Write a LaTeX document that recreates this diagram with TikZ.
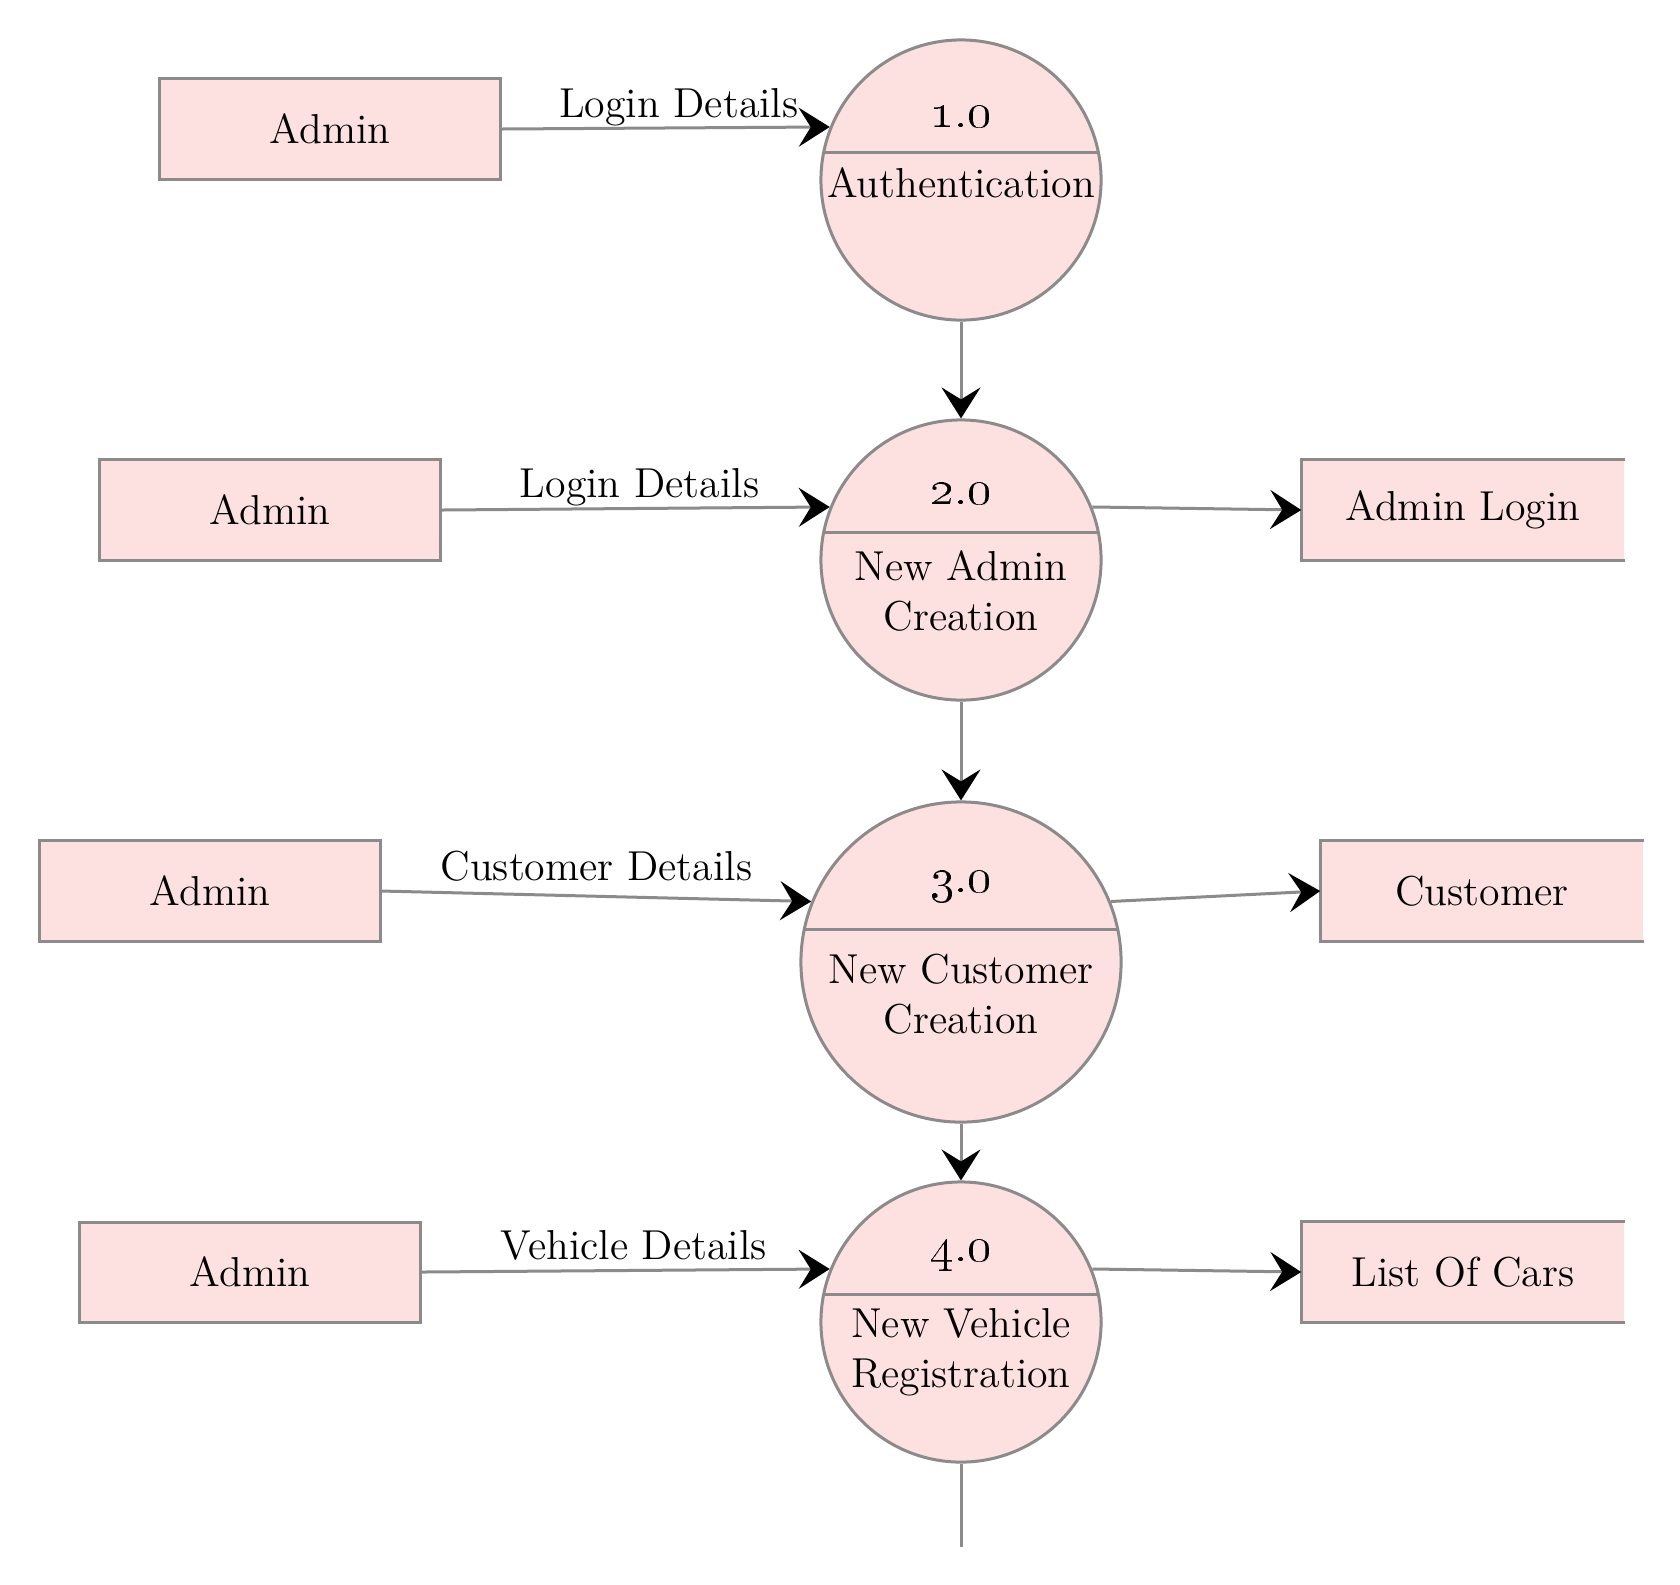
\documentclass[tikz,border=0pt]{standalone}
\usepackage{tikz}
\usetikzlibrary{arrows.meta,positioning}
\definecolor{dfdpink}{RGB}{253,224,224}
\definecolor{dfdgray}{RGB}{140,138,138}

\begin{document}
\begin{tikzpicture} [x=0.01cm, y=-0.01cm,
  every node/.style={font=\fontsize{11.9}{14.2}\selectfont},
  entity/.style={draw=dfdgray, fill=dfdpink, line width=0.03cm, minimum width=3.4cm, minimum height=1cm, inner sep=0pt},
  store/.style={fill=dfdpink, minimum width=3.22cm, minimum height=1cm, inner sep=0pt},
  proc/.style={circle, draw=dfdgray, fill=dfdpink, line width=0.03cm, minimum size=2.8cm, inner sep=0pt},
  edge/.style={draw=dfdgray, line width=0.03cm},
  flow/.style={edge, -{Stealth[length=3.1mm, width=3.9mm, inset=1.2mm, color=black]}},
  lbl/.style={anchor=base, yshift=3pt, inner sep=0pt},
  ptext/.style={align=center, inner sep=0pt},
  pnum/.style={ptext, font=\fontsize{13.5}{16}\selectfont}]

\useasboundingbox (0,0) rectangle (1680,1584);
%\draw [help lines, step=100](0,0) grid (1680,1584);

% processes
\node (p1) [proc] at (961,180) {};
\node (p2) [proc] at (961,560) {};
\node (p3) [proc, minimum size=3.2cm] at (961,962) {};
\node (p4) [proc] at (961,1322) {};
\draw [edge] ([shift={(-137,-28)}]p1.center) -- ([shift={(137,-28)}]p1.center);
\draw [edge] ([shift={(-137,-28)}]p2.center) -- ([shift={(137,-28)}]p2.center);
\draw [edge] ([shift={(-156.5,-33)}]p3.center) -- ([shift={(156.5,-33)}]p3.center);
\draw [edge] ([shift={(-137,-28)}]p4.center) -- ([shift={(137,-28)}]p4.center);

\node (n1) [pnum] at (961,117) {\oldstylenums{1.0}};
\node (n2) [pnum] at (961,494) {\oldstylenums{2.0}};
\node (n3) [pnum] at (961,886) {\oldstylenums{3.0}};
\node (n4) [pnum] at (961,1255) {\oldstylenums{4.0}};
\node (t1) [ptext] at (961,183) {Authentication};
\node (t2) [ptext] at (961,591) {New Admin\\Creation};
\node (t3) [ptext] at (961,994) {New Customer\\Creation};
\node (t4) [ptext] at (961,1352) {New Vehicle\\Registration};

% external entities
\node (b1) [entity] at (330,129) {Admin};
\node (b2) [entity] at (270,510) {Admin};
\node (b3) [entity] at (210,891) {Admin};
\node (b4) [entity] at (250,1272) {Admin};

% data stores
\node (s1) [store] at (1463,510) {Admin Login};
\node (s2) [store] at (1482,891) {Customer};
\node (s3) [store] at (1463,1272) {List Of Cars};
\draw [edge] (s1.north east) -- (s1.north west) -- (s1.south west) -- (s1.south east);
\draw [edge] (s2.north east) -- (s2.north west) -- (s2.south west) -- (s2.south east);
\draw [edge] (s3.north east) -- (s3.north west) -- (s3.south west) -- (s3.south east);

% flows
\draw [flow] (b1.east) -- node[lbl, pos=0.54] {Login Details} (p1.158);
\draw [flow] (b2.east) -- node[lbl, pos=0.51] {Login Details} (p2.158);
\draw [flow] (b3.east) -- node[lbl, pos=0.5, yshift=1.5pt] {Customer Details} (p3.158);
\draw [flow] (b4.east) -- node[lbl, pos=0.52] {Vehicle Details} (p4.158);

\draw [flow] (p2.22) -- (s1.west);
\draw [flow] (p3.22) -- (s2.west);
\draw [flow] (p4.22) -- (s3.west);

\draw [flow] (p1.south) -- (p2.north);
\draw [flow] (p2.south) -- (p3.north);
\draw [flow] (p3.south) -- (p4.north);
\coordinate (tail) at (961,1547);
\draw [edge] (p4.south) -- (tail);

\end{tikzpicture}
\end{document}
